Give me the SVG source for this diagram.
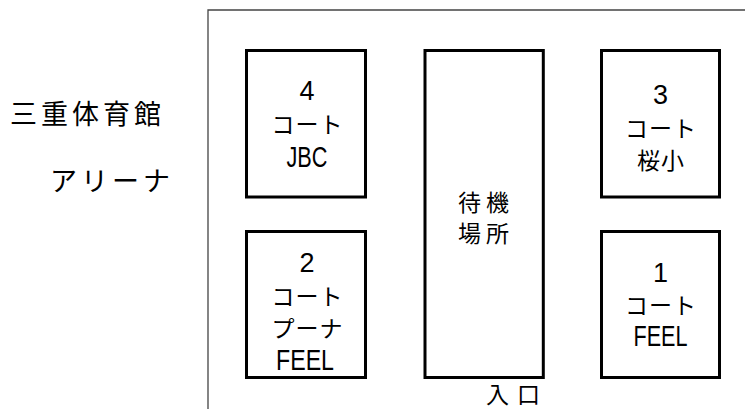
<svg xmlns="http://www.w3.org/2000/svg" width="745" height="409" viewBox="0 0 745 409">
<style>
.box{fill:#fff;stroke:#000;stroke-width:3}
.frame{fill:none;stroke:#444;stroke-width:1.3}
text{font-family:"Noto Sans CJK JP","Liberation Sans",sans-serif;fill:#000;text-anchor:middle}
.t{font-size:23px;letter-spacing:1px}
.w{font-size:23px;letter-spacing:5px}
.n{font-family:"Liberation Sans","Noto Sans CJK JP",sans-serif;font-size:27px}
.l{font-family:"Liberation Sans","Noto Sans CJK JP",sans-serif;font-size:29px}
.big{font-size:27px;letter-spacing:4px;text-anchor:start}
</style>
<rect width="745" height="409" fill="#fff"/>
<g id="frame">
<path class="frame" d="M208,409 V10 H745"/>
</g>
<g id="title">
<text class="big" x="10" y="124">三重体育館</text>
<text class="big" x="50" y="191">アリーナ</text>
</g>
<g id="court4">
<rect class="box" x="246.5" y="50.5" width="119" height="146.5"/>
<text class="n" x="307" y="100">4</text>
<text class="t" x="307.5" y="133">コート</text>
<text class="l" x="307" y="167" textLength="41" lengthAdjust="spacingAndGlyphs">JBC</text>
</g>
<g id="court3">
<rect class="box" x="601.5" y="50.5" width="118" height="146.5"/>
<text class="n" x="660.5" y="104">3</text>
<text class="t" x="661" y="137">コート</text>
<text class="t" x="661" y="169">桜小</text>
</g>
<g id="court2">
<rect class="box" x="246.5" y="231.5" width="119" height="146"/>
<text class="n" x="307" y="272">2</text>
<text class="t" x="307.5" y="305">コート</text>
<text class="t" x="307.5" y="337">プーナ</text>
<text class="l" x="305" y="370" textLength="58" lengthAdjust="spacingAndGlyphs">FEEL</text>
</g>
<g id="court1">
<rect class="box" x="601.5" y="231.5" width="118" height="146"/>
<text class="n" x="660.5" y="282">1</text>
<text class="t" x="661" y="314">コート</text>
<text class="l" x="660.5" y="346" textLength="54" lengthAdjust="spacingAndGlyphs">FEEL</text>
</g>
<g id="waiting">
<rect class="box" x="425" y="50.5" width="118.3" height="327"/>
<text class="w" x="486" y="211">待機</text>
<text class="w" x="486" y="242">場所</text>
</g>
<g id="entrance">
<text class="w" x="517" y="403" style="letter-spacing:8px">入口</text>
</g>
</svg>
